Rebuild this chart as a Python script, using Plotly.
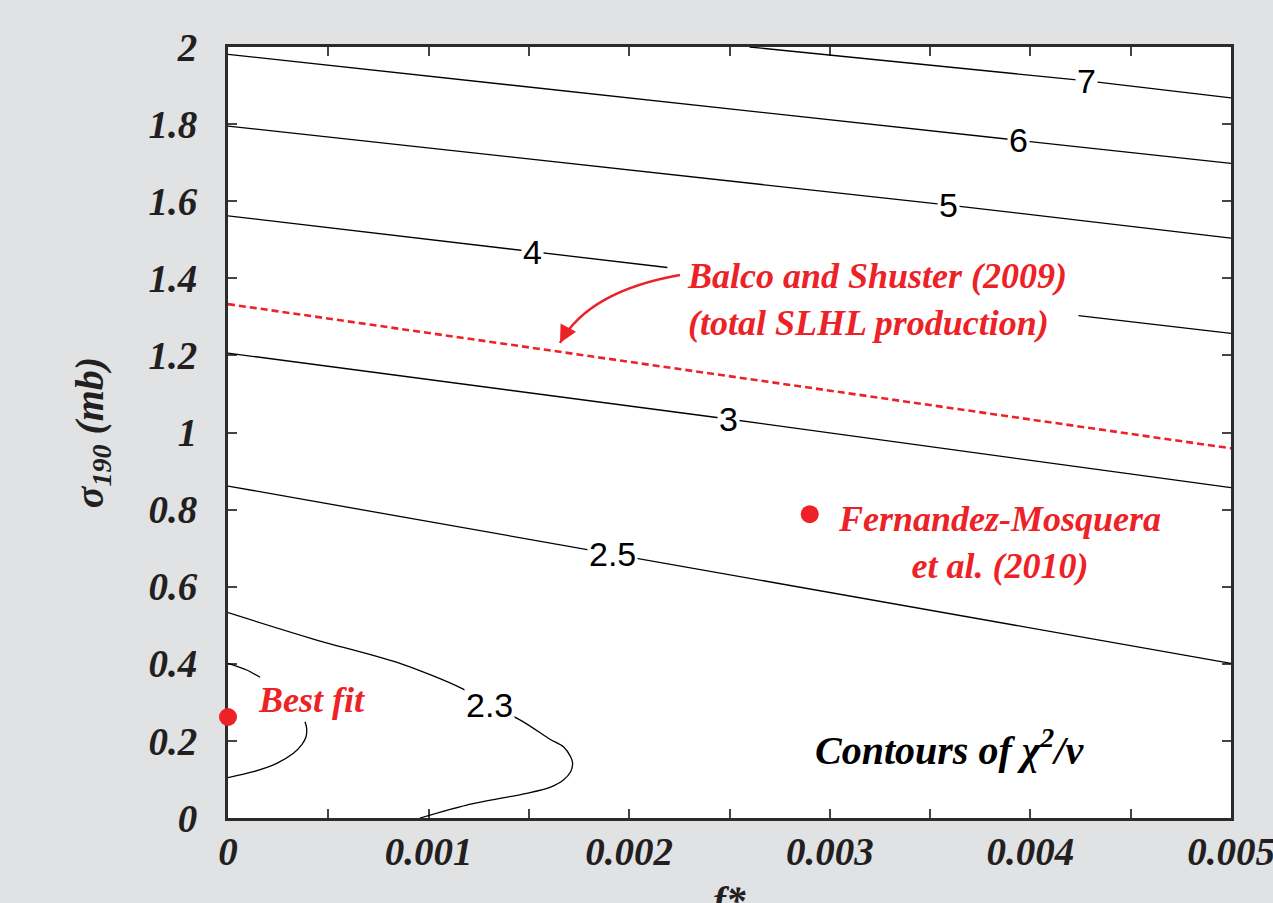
import plotly.graph_objects as go

# ---------------- data ----------------
# contour lines of chi^2/v (f*, sigma190)
c7_x = [0.0026, 0.004282, 0.005]
c7_y = [2.0, 1.912, 1.868]
c6_x = [0.0, 0.003943, 0.005]
c6_y = [1.981, 1.759, 1.698]
c5_x = [0.0, 0.003594, 0.005]
c5_y = [1.795, 1.590, 1.504]
c4_x = [0.0, 0.001520, 0.00219, None, 0.00424, 0.005]
c4_y = [1.562, 1.468, 1.428, None, 1.303, 1.257]
c3_x = [0.0, 0.002493, 0.005]
c3_y = [1.206, 1.035, 0.857]
c25_x = [0.0, 0.001919, 0.005]
c25_y = [0.861, 0.685, 0.401]
c23_x = [0.0, 0.000442, 0.000857, 0.001165, 0.001306, 0.001464, 0.001605, 0.001672,
         0.001708, 0.001718, 0.001708, 0.001672, 0.001605, 0.001489, 0.001190, 0.000957]
c23_y = [0.5326, 0.4617, 0.4013, 0.3364, 0.292, 0.2521, 0.2044, 0.1850,
         0.1590, 0.1419, 0.1201, 0.0986, 0.0796, 0.0641, 0.0337, 0.0]
c22_x = [0.0, 0.000093, 0.00016, None, 0.000384, 0.000392, 0.000389, 0.000367,
         0.000326, 0.000243, 0.000126, 0.0]
c22_y = [0.4013, 0.3839, 0.3650, None, 0.2498, 0.2327, 0.2109, 0.1894,
         0.1678, 0.1419, 0.1201, 0.1046]

# contour label texts and positions
lab_text = ["7", "6", "5", "4", "3", "2.5", "2.3"]
lab_x = [0.004282, 0.003943, 0.003594, 0.001520, 0.002493, 0.001919, 0.001306]
lab_y = [1.912, 1.759, 1.590, 1.468, 1.035, 0.685, 0.293]

# Balco and Shuster (2009) total SLHL production line
balco_x = [0.0, 0.005]
balco_y = [1.333, 0.959]

# points
best_x = [0.0]
best_y = [0.262]
fm_x = [0.0029]
fm_y = [0.788]

# arrow (start, control, end)
arr_x = [0.002253, 0.001796, 0.001655]
arr_y = [1.4085, 1.3665, 1.2322]

# axis ticks
x_tickvals = [0, 0.0005, 0.001, 0.0015, 0.002, 0.0025, 0.003, 0.0035, 0.004, 0.0045, 0.005]
x_ticktext = ["0", " ", "0.001", " ", "0.002", " ", "0.003", " ", "0.004", " ", "0.005"]
y_tickvals = [0, 0.2, 0.4, 0.6, 0.8, 1.0, 1.2, 1.4, 1.6, 1.8, 2.0]
y_ticktext = ["0", "0.2", "0.4", "0.6", "0.8", "1", "1.2", "1.4", "1.6", "1.8", "2"]

# ---------------- style ----------------
RED = "#ec2227"
INK = "#231f20"
BG = "#e1e2e4"
SERIF = "Liberation Serif"
SANS = "Liberation Sans"

fig = go.Figure()

line_style = dict(color="black", width=1.3)
for xs, ys in [(c7_x, c7_y), (c6_x, c6_y), (c5_x, c5_y), (c4_x, c4_y),
               (c3_x, c3_y), (c25_x, c25_y)]:
    fig.add_trace(go.Scatter(x=xs, y=ys, mode="lines", line=line_style,
                             hoverinfo="skip", connectgaps=False))
for xs, ys in [(c23_x, c23_y), (c22_x, c22_y)]:
    fig.add_trace(go.Scatter(x=xs, y=ys, mode="lines",
                             line=dict(color="black", width=1.3, shape="spline", smoothing=0.8),
                             hoverinfo="skip", connectgaps=False))

fig.add_trace(go.Scatter(x=balco_x, y=balco_y, mode="lines",
                         line=dict(color=RED, width=2.6, dash="7px,4px"), hoverinfo="skip"))

fig.add_trace(go.Scatter(x=best_x + fm_x, y=best_y + fm_y, mode="markers",
                         marker=dict(color=RED, size=18, line=dict(width=0)),
                         cliponaxis=False, hoverinfo="skip"))

# curved arrow body
fig.add_shape(type="path",
              path=f"M {arr_x[0]},{arr_y[0]} Q {arr_x[1]},{arr_y[1]} {arr_x[2]},{arr_y[2]}",
              xref="x", yref="y", line=dict(color=RED, width=2.5))
# arrow head
fig.add_annotation(x=arr_x[2], y=arr_y[2], xref="x", yref="y", text="",
                   showarrow=True, arrowhead=2, arrowsize=1.4, arrowwidth=2.5,
                   arrowcolor=RED, ax=7, ay=-13)

# contour labels
for t, lx, ly in zip(lab_text, lab_x, lab_y):
    fig.add_annotation(x=lx, y=ly, xref="x", yref="y", text=t, showarrow=False,
                       font=dict(family=SANS, size=34, color="black"),
                       bgcolor="white", borderpad=1)

red_font = dict(family=SERIF, size=36, color=RED, weight="bold", style="italic")
fig.add_annotation(x=0.002278, y=1.346, xref="x", yref="y", xanchor="left",
                   text="Balco and Shuster (2009)<br>(total SLHL production)",
                   align="left", showarrow=False, font=red_font)
fig.add_annotation(x=0.003848, y=0.7134, xref="x", yref="y",
                   text="Fernandez-Mosquera<br>et al. (2010)",
                   align="center", showarrow=False, font=red_font)
fig.add_annotation(x=0.00014, y=0.306, xref="x", yref="y", xanchor="left",
                   text="Best fit", showarrow=False, font=red_font)
fig.add_annotation(x=0.003599, y=0.1816, xref="x", yref="y",
                   text="Contours of χ<sup>2</sup>/v", showarrow=False,
                   font=dict(family=SERIF, size=40, color="black", weight="bold", style="italic"))

tick_font = dict(family=SERIF, size=39, color=INK, weight="bold", style="italic")

# x-axis title (partly below the page edge, as in the original)
fig.add_annotation(x=0.5, y=0, xref="paper", yref="paper", yanchor="top", yshift=-59,
                   text="f*", showarrow=False, font=tick_font)

axis_common = dict(showline=True, linecolor="#2b2b2b", linewidth=3, mirror="ticks",
                   ticks="inside", ticklen=9, tickwidth=1.5, tickcolor="#444",
                   showgrid=False, zeroline=False, tickfont=tick_font,
                   automargin=False, layer="below traces", ticklabeloverflow="allow")

fig.update_layout(
    width=1273, height=903,
    margin=dict(l=228, r=42, t=47, b=85),
    paper_bgcolor=BG, plot_bgcolor="white",
    showlegend=False,
    xaxis=dict(range=[0, 0.005], tickmode="array", tickvals=x_tickvals, ticktext=x_ticktext,
               ticklabelstandoff=-3, **axis_common),
    yaxis=dict(range=[0, 2], tickmode="array", tickvals=y_tickvals, ticktext=y_ticktext,
               title=dict(text="σ<sub>190</sub> (mb)",
                          font=dict(family=SERIF, size=40, color=INK, weight="bold", style="italic"),
                          standoff=33),
               ticklabelstandoff=20, **axis_common),
)

fig.write_html(
    "out.html",
    config={"displayModeBar": False},
    post_script="document.body.style.margin='0';document.body.style.background='" + BG + "';",
)
